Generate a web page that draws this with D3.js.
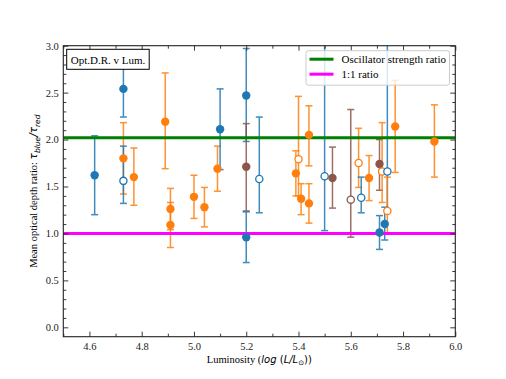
<!doctype html>
<html lang="en">
<head>
    <meta charset="utf-8">
    <title>Optical depth ratio vs Luminosity</title>
    <script src="https://d3js.org/d3.v7.min.js"></script>
    <style>
        body { margin: 0; background: #fff; }
        text { font-family: "Liberation Serif", "DejaVu Serif", serif; }
    </style>
</head>
<body>
    <svg id="chart" width="506" height="379"></svg>

    <script>
        // luminosity, log(L/Lsun)
        var lum = [4.62, 4.73, 4.73, 4.73, 4.77, 4.89, 4.91, 4.91, 5.00, 5.04, 5.09, 5.10,
                   5.20, 5.20, 5.20, 5.25, 5.39, 5.40, 5.41, 5.44, 5.44, 5.50, 5.53, 5.60,
                   5.63, 5.64, 5.67, 5.71, 5.72, 5.74, 5.74, 5.73, 5.71, 5.77, 5.92];
        // mean optical depth ratio
        var ratio = [1.62, 2.54, 1.80, 1.56, 1.60, 2.19, 1.26, 1.09, 1.39, 1.28, 1.69, 2.11,
                     2.47, 1.71, 0.96, 1.58, 1.64, 1.79, 1.37, 1.32, 2.05, 1.61, 1.59, 1.36,
                     1.75, 1.38, 1.59, 1.74, 1.66, 1.66, 1.24, 1.10, 1.01, 2.14, 1.98];
        var errLow = [1.20, 2.24, 1.42, 1.32, 1.30, 1.69, 1.04, 0.85, 1.16, 1.07, 1.45, 1.68,
                      1.98, 1.24, 0.69, 1.22, 1.40, 1.40, 1.20, 1.11, 1.72, 1.03, 1.27, 0.96,
                      1.49, 1.22, 1.35, 1.46, 1.33, 1.25, 1.00, 0.93, 0.83, 1.65, 1.60];
        var errHigh = [2.04, 2.84, 2.18, 1.93, 1.91, 2.71, 1.48, 1.33, 1.62, 1.49, 1.93, 2.54,
                       2.97, 2.17, 1.23, 2.24, 1.88, 2.46, 1.53, 1.53, 2.36, 3.20, 1.92, 2.32,
                       2.12, 1.60, 1.83, 2.00, 2.18, 3.10, 1.60, 1.28, 1.19, 2.63, 2.37];
        var group = ["blue", "blue", "orange", "blue", "orange", "orange", "orange", "orange", "orange", "orange", "orange", "blue",
                     "blue", "brown", "blue", "blue", "orange", "orange", "orange", "orange", "orange", "blue", "brown", "brown",
                     "orange", "blue", "orange", "brown", "orange", "blue", "orange", "blue", "blue", "orange", "orange"];
        var hollow = [0, 0, 0, 1, 0, 0, 0, 0, 0, 0, 0, 0,
                      0, 0, 0, 1, 0, 1, 0, 0, 0, 1, 0, 1,
                      1, 1, 0, 0, 1, 1, 1, 0, 0, 0, 0];

        var refLines = [
            { label: "Oscillator strength ratio", value: 2.02, color: "#008000" },
            { label: "1:1 ratio", value: 1.0, color: "#ff00ff" }
        ];
        var xTicks = [4.6, 4.8, 5.0, 5.2, 5.4, 5.6, 5.8, 6.0];
        var xMinor = [4.5, 4.7, 4.9, 5.1, 5.3, 5.5, 5.7, 5.9];
        var yTicks = [0.0, 0.5, 1.0, 1.5, 2.0, 2.5, 3.0];
        var yMinor = [0.1, 0.2, 0.3, 0.4, 0.6, 0.7, 0.8, 0.9, 1.1, 1.2, 1.3, 1.4, 1.6, 1.7, 1.8, 1.9,
                      2.1, 2.2, 2.3, 2.4, 2.6, 2.7, 2.8, 2.9];

        var palette = { blue: "#1f77b4", orange: "#ff7f0e", brown: "#8c564b" };

        var data = lum.map(function(d, i) {
            return { x: d, y: ratio[i], lo: errLow[i], hi: errHigh[i], c: palette[group[i]], open: hollow[i] == 1 };
        });

        var pL = 63.3, pR = 455.3, pT = 45.7, pB = 336.7;
        var x = d3.scaleLinear().domain([4.5, 6.0]).range([pL, pR]);
        var y = d3.scaleLinear().domain([-0.1, 3.0]).range([pB, pT]);

        var svg = d3.select("#chart");

        svg.append("clipPath").attr("id", "clip")
            .append("rect")
            .attr("x", pL).attr("y", pT)
            .attr("width", pR - pL).attr("height", pB - pT);

        var plot = svg.append("g").attr("clip-path", "url(#clip)");

        // error bars
        var bars = plot.append("g").selectAll("g")
            .data(data).enter().append("g")
            .attr("stroke", function(d) { return d.c; })
            .attr("stroke-width", 1.5)
            .attr("opacity", 0.85);
        bars.append("line")
            .attr("x1", function(d) { return x(d.x); })
            .attr("x2", function(d) { return x(d.x); })
            .attr("y1", function(d) { return y(d.lo); })
            .attr("y2", function(d) { return y(d.hi); });
        bars.append("line")
            .attr("x1", function(d) { return x(d.x) - 3.5; })
            .attr("x2", function(d) { return x(d.x) + 3.5; })
            .attr("y1", function(d) { return y(d.lo); })
            .attr("y2", function(d) { return y(d.lo); });
        bars.append("line")
            .attr("x1", function(d) { return x(d.x) - 3.5; })
            .attr("x2", function(d) { return x(d.x) + 3.5; })
            .attr("y1", function(d) { return y(d.hi); })
            .attr("y2", function(d) { return y(d.hi); });

        // horizontal reference lines
        plot.append("g").selectAll("line")
            .data(refLines).enter().append("line")
            .attr("x1", pL).attr("x2", pR)
            .attr("y1", function(d) { return y(d.value); })
            .attr("y2", function(d) { return y(d.value); })
            .attr("stroke", function(d) { return d.color; })
            .attr("stroke-width", 3);

        // markers
        plot.append("g").selectAll("circle")
            .data(data).enter().append("circle")
            .attr("cx", function(d) { return x(d.x); })
            .attr("cy", function(d) { return y(d.y); })
            .attr("r", function(d) { return d.open ? 3.6 : 4.2; })
            .attr("fill", function(d) { return d.open ? "#fff" : d.c; })
            .attr("stroke", function(d) { return d.c; })
            .attr("stroke-width", function(d) { return d.open ? 1.3 : 0; });

        // axes, ticks pointing inward on all four sides
        svg.append("g").attr("transform", "translate(0," + pB + ")")
            .call(d3.axisBottom(x).tickValues(xTicks).tickSizeInner(-5).tickSizeOuter(0).tickPadding(6).tickFormat(d3.format(".1f")));
        svg.append("g").attr("transform", "translate(0," + pB + ")")
            .call(d3.axisBottom(x).tickValues(xMinor).tickSizeInner(-3).tickSizeOuter(0).tickFormat(""));
        svg.append("g").attr("transform", "translate(0," + pT + ")")
            .call(d3.axisTop(x).tickValues(xTicks).tickSizeInner(-5).tickSizeOuter(0).tickFormat(""));
        svg.append("g").attr("transform", "translate(0," + pT + ")")
            .call(d3.axisTop(x).tickValues(xMinor).tickSizeInner(-3).tickSizeOuter(0).tickFormat(""));
        svg.append("g").attr("transform", "translate(" + pL + ",0)")
            .call(d3.axisLeft(y).tickValues(yTicks).tickSizeInner(-5).tickSizeOuter(0).tickPadding(4.5).tickFormat(d3.format(".1f")));
        svg.append("g").attr("transform", "translate(" + pL + ",0)")
            .call(d3.axisLeft(y).tickValues(yMinor).tickSizeInner(-3).tickSizeOuter(0).tickFormat(""));
        svg.append("g").attr("transform", "translate(" + pR + ",0)")
            .call(d3.axisRight(y).tickValues(yTicks).tickSizeInner(-5).tickSizeOuter(0).tickFormat(""));
        svg.append("g").attr("transform", "translate(" + pR + ",0)")
            .call(d3.axisRight(y).tickValues(yMinor).tickSizeInner(-3).tickSizeOuter(0).tickFormat(""));

        svg.selectAll(".domain").remove();
        svg.selectAll(".tick line").attr("stroke", "#222").attr("stroke-width", 0.9);
        svg.selectAll(".tick text")
            .attr("font-family", "Liberation Serif")
            .attr("font-size", 10.5)
            .attr("fill", "#222");

        svg.append("rect")
            .attr("x", pL).attr("y", pT)
            .attr("width", pR - pL).attr("height", pB - pT)
            .attr("fill", "none").attr("stroke", "#222").attr("stroke-width", 1.1);

        // label box top left
        svg.append("rect")
            .attr("x", 66.7).attr("y", 49.3).attr("width", 82.5).attr("height", 20)
            .attr("fill", "#fff").attr("stroke", "#000").attr("stroke-width", 1);
        svg.append("text")
            .attr("x", 108).attr("y", 63.5)
            .attr("text-anchor", "middle")
            .attr("font-size", 11)
            .text("Opt.D.R. v Lum.");

        // legend
        var legend = svg.append("g").attr("transform", "translate(306,50.7)");
        legend.append("rect")
            .attr("width", 143.5).attr("height", 34.5)
            .attr("rx", 2.5)
            .attr("fill", "#fff").attr("fill-opacity", 0.8)
            .attr("stroke", "#ccc").attr("stroke-width", 1);
        var items = legend.selectAll("g.item")
            .data(refLines).enter().append("g")
            .attr("class", "item")
            .attr("transform", function(d, i) { return "translate(0," + (8.5 + i * 15) + ")"; });
        items.append("line")
            .attr("x1", 3.5).attr("x2", 27.5)
            .attr("stroke", function(d) { return d.color; })
            .attr("stroke-width", 3);
        items.append("text")
            .attr("x", 35.5).attr("y", 4)
            .attr("font-size", 11)
            .text(function(d) { return d.label; });

        // axis titles
        var yl = svg.append("text")
            .attr("transform", "translate(37," + ((pT + pB) / 2) + ") rotate(-90)")
            .attr("text-anchor", "middle")
            .attr("font-size", 10.5);
        yl.append("tspan").text("Mean optical depth ratio: ");
        yl.append("tspan").attr("font-family", "DejaVu Sans").attr("font-style", "italic").text("τ");
        yl.append("tspan").attr("font-family", "DejaVu Sans").attr("font-style", "italic").attr("font-size", 7.5).attr("dy", 2.5).text("blue");
        yl.append("tspan").attr("font-family", "DejaVu Sans").attr("font-style", "italic").attr("dy", -2.5).text("/τ");
        yl.append("tspan").attr("font-family", "DejaVu Sans").attr("font-style", "italic").attr("font-size", 7.5).attr("dy", 2.5).text("red");

        var xl = svg.append("text")
            .attr("x", (pL + pR) / 2).attr("y", 363)
            .attr("text-anchor", "middle")
            .attr("font-size", 10.5);
        xl.append("tspan").text("Luminosity (");
        xl.append("tspan").attr("font-family", "DejaVu Sans").attr("font-style", "italic").attr("font-size", 10).text("log");
        xl.append("tspan").attr("font-family", "DejaVu Sans").attr("font-size", 10).text(" (");
        xl.append("tspan").attr("font-family", "DejaVu Sans").attr("font-style", "italic").attr("font-size", 10).text("L/L");
        xl.append("tspan").attr("font-family", "DejaVu Sans").attr("font-size", 7).attr("dy", 2).text("⊙");
        xl.append("tspan").attr("font-family", "DejaVu Sans").attr("font-size", 10).attr("dy", -2).text("))");
    </script>
</body>
</html>
